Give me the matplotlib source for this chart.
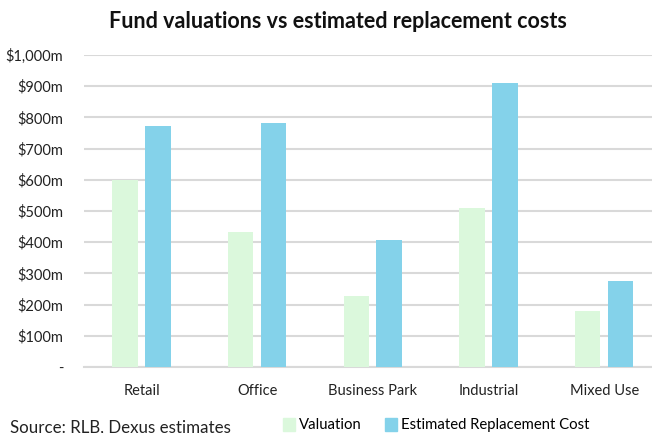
import numpy as np
import matplotlib.pyplot as plt
from matplotlib.patches import Patch

categories = ["Retail", "Office", "Business Park", "Industrial", "Mixed Use"]
valuation = [600, 433, 227, 510, 179]
replacement = [774, 782, 407, 911, 276]
tick_values = [0, 100, 200, 300, 400, 500, 600, 700, 800, 900, 1000]
tick_labels = ["-", "$100m", "$200m", "$300m", "$400m", "$500m",
               "$600m", "$700m", "$800m", "$900m", "$1,000m"]

plt.rcParams["font.family"] = ["Lato", "DejaVu Sans"]

W, H = 652, 433
fig = plt.figure(figsize=(W / 100, H / 100), dpi=100)

# plot area runs off the right edge, like the cropped original
left, right, top, bottom = 84, 662, 55, 367
ax = fig.add_axes([left / W, 1 - bottom / H, (right - left) / W, (bottom - top) / H])

green = "#DBF8DC"
blue = "#84D2EA"
x = np.arange(len(categories))
width = 0.22
ax.bar(x - 0.145, valuation, width, color=green, zorder=3)
ax.bar(x + 0.14, replacement, width, color=blue, zorder=3)

ax.set_xlim(-0.5, len(categories) - 0.5)
ax.set_ylim(0, 1000)
ax.set_yticks(tick_values)
ax.set_yticklabels(tick_labels, fontsize=10.5, color="#222222")
ax.set_xticks(x)
ax.set_xticklabels(categories, fontsize=10.5, color="#222222")
ax.tick_params(axis="y", length=0, pad=15)
ax.tick_params(axis="x", length=0, pad=12)
ax.grid(axis="y", color="#D9D9D9", linewidth=1.5, zorder=0)
for s in ["top", "right", "left"]:
    ax.spines[s].set_visible(False)
ax.spines["bottom"].set_color("#D9D9D9")
ax.spines["bottom"].set_linewidth(1.5)

fig.text(338 / W, 1 - 21 / H, "Fund valuations vs estimated replacement costs",
         ha="center", va="center", fontsize=15.5, fontweight="bold", color="#111111")

# source line is cut by the bottom edge in the original
fig.text(10 / W, 1 - 420 / H, "Source: RLB, Dexus estimates",
         ha="left", va="top", fontsize=12.2, color="#222222")

handles = [Patch(color=green, label="Valuation"),
           Patch(color=blue, label="Estimated Replacement Cost")]
fig.legend(handles=handles, loc="center left", bbox_to_anchor=(283 / W, 1 - 425 / H),
           ncol=2, frameon=False, fontsize=10.7, handlelength=0.8, handleheight=1.0,
           handletextpad=0.25, columnspacing=1.6, borderpad=0, borderaxespad=0)

fig.savefig("out.png", dpi=100)
